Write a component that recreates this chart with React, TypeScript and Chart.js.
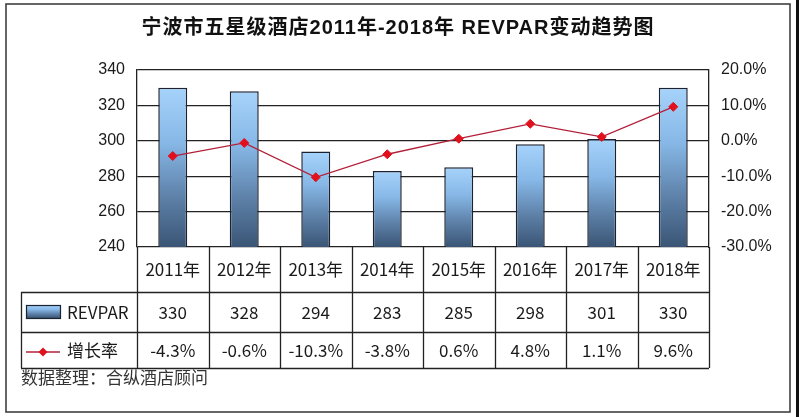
import React, { useEffect, useRef } from "react";
import { Chart, registerables } from "chart.js";

Chart.register(...registerables);

const title = "宁波市五星级酒店2011年-2018年 REVPAR变动趋势图";
const categories = ["2011年", "2012年", "2013年", "2014年", "2015年", "2016年", "2017年", "2018年"];
const revpar = [330, 328, 294, 283, 285, 298, 301, 330];
const growth = [-4.3, -0.6, -10.3, -3.8, 0.6, 4.8, 1.1, 9.6];
const barLabel = "REVPAR";
const lineLabel = "增长率";
const sourceText = "数据整理：合纵酒店顾问";

const LATIN = '"Liberation Sans", Arial, sans-serif';
const CJK = '"Noto Sans CJK SC", "Noto Sans", sans-serif';
const LINE_COLOR = "#b3203a";
const POINT_COLOR = "#e0101c";
const GRID = "#222";

function barGradient(ctx: CanvasRenderingContext2D, top: number, bottom: number) {
  const g = ctx.createLinearGradient(0, top, 0, bottom);
  g.addColorStop(0, "#a6d3fb");
  g.addColorStop(0.35, "#86b7e6");
  g.addColorStop(0.7, "#5c7fa6");
  g.addColorStop(1, "#3a5575");
  return g;
}

const decorPlugin = {
  id: "decor",
  afterDraw(chart: any) {
    const { ctx, chartArea: ca } = chart;
    const xs = chart.scales.x;
    const n = categories.length;
    const colW = (ca.right - ca.left) / n;
    const hdrBottom = ca.bottom + 45;
    const r2Bottom = ca.bottom + 85;
    const r3Bottom = ca.bottom + 121;
    const legLeft = 21;

    ctx.save();
    // title
    ctx.fillStyle = "#111";
    ctx.font = `bold 20px ${LATIN.replace("sans-serif", "")} "Noto Sans CJK SC"`;
    (ctx as any).letterSpacing = "1px";
    ctx.textAlign = "center";
    ctx.textBaseline = "middle";
    ctx.fillText(title, 398, 28);
    (ctx as any).letterSpacing = "0px";

    // source text (drawn before table lines)
    ctx.font = `17px ${CJK}`;
    ctx.fillStyle = "#333";
    ctx.textAlign = "left";
    ctx.fillText(sourceText, legLeft, r3Bottom + 10);

    // table lines
    ctx.strokeStyle = GRID;
    ctx.lineWidth = 1.3;
    ctx.beginPath();
    for (let i = 0; i <= n; i++) {
      const x = Math.round(ca.left + i * colW) + 0.5;
      ctx.moveTo(x, ca.bottom);
      ctx.lineTo(x, r3Bottom);
    }
    ctx.moveTo(legLeft + 0.5, hdrBottom);
    ctx.lineTo(legLeft + 0.5, r3Bottom);
    [hdrBottom, r2Bottom, r3Bottom].forEach((y) => {
      ctx.moveTo(legLeft, y + 0.5);
      ctx.lineTo(ca.right, y + 0.5);
    });
    ctx.stroke();

    // table texts
    ctx.fillStyle = "#1a1a1a";
    ctx.font = `17px ${CJK}`;
    ctx.textAlign = "center";
    ctx.textBaseline = "middle";
    for (let i = 0; i < n; i++) {
      const cx = xs.getPixelForValue(i);
      ctx.fillText(categories[i], cx, ca.bottom + 23);
      ctx.fillText(String(revpar[i]), cx, hdrBottom + 21);
      ctx.fillText(growth[i].toFixed(1) + "%", cx, r2Bottom + 19);
    }

    // legend keys
    const sy = hdrBottom + 13;
    ctx.fillStyle = barGradient(ctx, sy, sy + 13);
    ctx.fillRect(26, sy, 34, 13);
    ctx.strokeStyle = "#1c2230";
    ctx.lineWidth = 1.2;
    ctx.strokeRect(26.5, sy + 0.5, 34, 13);
    const ly = r2Bottom + 20;
    ctx.strokeStyle = LINE_COLOR;
    ctx.lineWidth = 1.3;
    ctx.beginPath();
    ctx.moveTo(26, ly);
    ctx.lineTo(60, ly);
    ctx.stroke();
    ctx.fillStyle = POINT_COLOR;
    ctx.beginPath();
    ctx.moveTo(43, ly - 4.5);
    ctx.lineTo(47.5, ly);
    ctx.lineTo(43, ly + 4.5);
    ctx.lineTo(38.5, ly);
    ctx.closePath();
    ctx.fill();
    ctx.fillStyle = "#1a1a1a";
    ctx.textAlign = "left";
    ctx.font = `17px ${CJK}`;
    ctx.fillText(barLabel, 67, hdrBottom + 21);
    ctx.fillText(lineLabel, 67, r2Bottom + 19);

    // outer frame
    ctx.strokeStyle = "#333";
    ctx.lineWidth = 1.5;
    ctx.strokeRect(6, 4, 784, 408);
    ctx.fillStyle = "#111";
    ctx.fillRect(796, 0, 3, 417);
    ctx.restore();
  },
};

export default function App() {
  const ref = useRef<HTMLCanvasElement | null>(null);
  useEffect(() => {
    if (!ref.current) return;
    const chart = new Chart(ref.current, {
      type: "bar",
      data: {
        labels: categories,
        datasets: [
          {
            type: "line",
            label: lineLabel,
            data: growth,
            yAxisID: "y1",
            borderColor: LINE_COLOR,
            borderWidth: 1.3,
            pointStyle: "rectRot",
            pointRadius: 4.5,
            pointBackgroundColor: POINT_COLOR,
            pointBorderColor: POINT_COLOR,
            pointBorderWidth: 1,
            tension: 0,
            order: 0,
          } as any,
          {
            type: "bar",
            label: barLabel,
            data: revpar,
            yAxisID: "y",
            backgroundColor: (c: any) => {
              const ch = c.chart;
              const ca = ch.chartArea;
              if (!ca || !ch.scales.y || c.raw == null) return "#7fb1e2";
              const top = ch.scales.y.getPixelForValue(c.raw);
              return barGradient(ch.ctx, top, ca.bottom);
            },
            borderColor: "#1c2230",
            borderWidth: 1.5,
            categoryPercentage: 1,
            barPercentage: 0.405,
            order: 1,
          } as any,
        ],
      },
      options: {
        responsive: false,
        animation: false,
        layout: { padding: { top: 70, bottom: 170, left: 0, right: 0 } },
        plugins: {
          legend: { display: false },
          tooltip: { enabled: false },
          title: { display: false },
        },
        scales: {
          x: { display: false, offset: true },
          y: {
            position: "left",
            min: 240,
            max: 340,
            ticks: {
              stepSize: 20,
              color: "#1a1a1a",
              font: { family: LATIN, size: 16 },
              padding: 12,
            },
            grid: { color: GRID, lineWidth: 1.3, drawTicks: false },
            border: { display: true, color: GRID, width: 1.3 },
            afterFit: (s: any) => {
              s.width = 137;
            },
          },
          y1: {
            position: "right",
            min: -30,
            max: 20,
            ticks: {
              stepSize: 10,
              color: "#1a1a1a",
              font: { family: LATIN, size: 16 },
              padding: 12,
              callback: (v: any) => Number(v).toFixed(1) + "%",
            },
            grid: { display: false, drawTicks: false },
            border: { display: true, color: GRID, width: 1.3 },
            afterFit: (s: any) => {
              s.width = 91;
            },
          },
        },
      } as any,
      plugins: [decorPlugin],
    });
    return () => chart.destroy();
  }, []);
  return (
    <div style={{ position: "fixed", left: 0, top: 0, width: 800, height: 417, background: "#fff" }}>
      <canvas ref={ref} width={800} height={417} style={{ width: 800, height: 417, display: "block" }} />
    </div>
  );
}
